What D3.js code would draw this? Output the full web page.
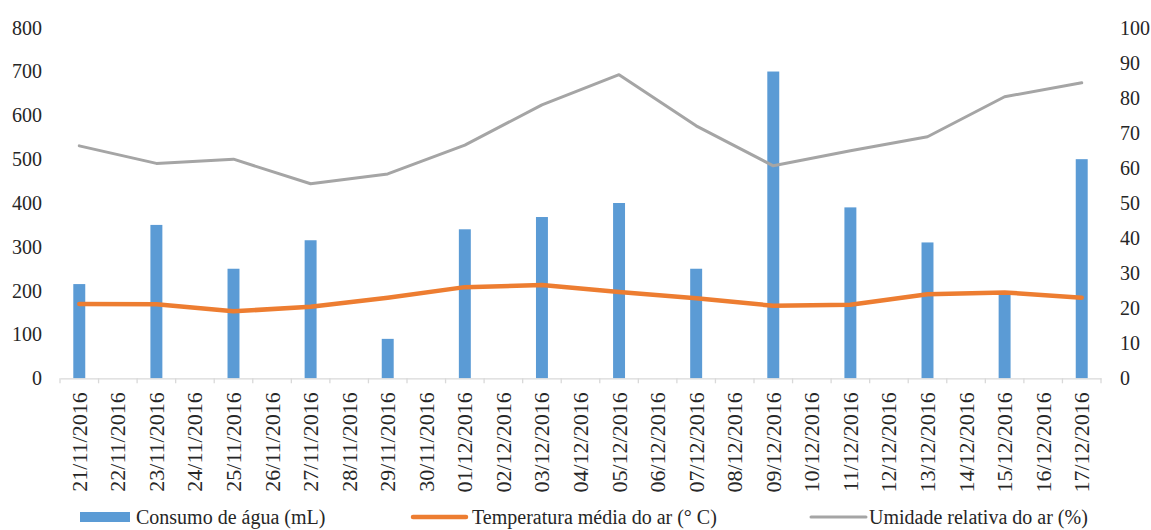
<!DOCTYPE html>
<html>
<head>
<meta charset="utf-8">
<script src="https://cdn.jsdelivr.net/npm/d3@7"></script>
</head>
<body style="margin:0;padding:0;background:#fff">
<svg id="chart" width="1151" height="530" style="display:block"></svg>
<script>
// Daily dates of the observation period
const categories = [
  "21/11/2016","22/11/2016","23/11/2016","24/11/2016","25/11/2016","26/11/2016",
  "27/11/2016","28/11/2016","29/11/2016","30/11/2016","01/12/2016","02/12/2016",
  "03/12/2016","04/12/2016","05/12/2016","06/12/2016","07/12/2016","08/12/2016",
  "09/12/2016","10/12/2016","11/12/2016","12/12/2016","13/12/2016","14/12/2016",
  "15/12/2016","16/12/2016","17/12/2016"
];

// Water consumption (mL), measured every other day
const consumo = [215, null, 350, null, 250, null, 315, null, 90, null, 340, null,
  368, null, 400, null, 250, null, 700, null, 390, null, 310, null, 193, null, 500];

// Mean air temperature (°C)
const temperatura = [21.2, null, 21.1, null, 19.1, null, 20.4, null, 23.0, null, 26.0, null,
  26.6, null, 24.6, null, 22.8, null, 20.7, null, 21.0, null, 24.0, null, 24.5, null, 23.0];

// Relative air humidity (%)
const umidade = [66.3, null, 61.3, null, 62.5, null, 55.5, null, 58.3, null, 66.5, null,
  78, null, 86.6, null, 72, null, 60.6, null, 64.9, null, 68.9, null, 80.3, null, 84.3];

const leftTicks = [0, 100, 200, 300, 400, 500, 600, 700, 800];
const rightTicks = [0, 10, 20, 30, 40, 50, 60, 70, 80, 90, 100];

const seriesNames = ["Consumo de água (mL)", "Temperatura média do ar (° C)", "Umidade relativa do ar (%)"];
const colors = { bar: "#5B9BD5", temp: "#ED7D31", hum: "#A5A5A5", axis: "#D9D9D9", text: "#262626" };
const serif = '"Liberation Serif", "Times New Roman", serif';

const svg = d3.select("#chart");
const fontSize = 20;
const dateFontSize = 22;

const plot = { left: 60, right: 1101, top: 27.7, bottom: 378.3 };

const x = d3.scaleBand().domain(categories).range([plot.left, plot.right]);
const yLeft = d3.scaleLinear().domain([0, 800]).range([plot.bottom, plot.top]);
const yRight = d3.scaleLinear().domain([0, 100]).range([plot.bottom, plot.top]);

const barW = x.bandwidth() * 0.31;

// Bars
svg.append("g").selectAll("rect")
  .data(categories.map((c, i) => ({ c, v: consumo[i] })).filter(d => d.v != null))
  .join("rect")
  .attr("x", d => x(d.c) + x.bandwidth() / 2 - barW / 2)
  .attr("y", d => yLeft(d.v))
  .attr("width", barW)
  .attr("height", d => yLeft(0) - yLeft(d.v))
  .attr("fill", colors.bar);

// X axis: line with tick marks at category boundaries
const xAxis = d3.axisBottom(x).tickSize(0).tickFormat("");
const gx = svg.append("g").attr("transform", `translate(0,${plot.bottom})`).call(xAxis);
gx.select(".domain").attr("stroke", colors.axis).attr("stroke-width", 1.3);
const boundaries = categories.map(c => x(c)).concat([plot.right]);
gx.selectAll(".bound").data(boundaries).join("line")
  .attr("class", "bound")
  .attr("x1", d => d).attr("x2", d => d)
  .attr("y1", 0).attr("y2", 5)
  .attr("stroke", colors.axis).attr("stroke-width", 1.3);

// Rotated date labels
gx.selectAll(".lbl").data(categories).join("text")
  .attr("class", "lbl")
  .attr("transform", d => `translate(${x(d) + x.bandwidth() / 2 + 7.5},${14}) rotate(-90)`)
  .attr("text-anchor", "end")
  .attr("font-size", dateFontSize)
  .attr("fill", colors.text)
  .text(d => d);

// Left axis
const gl = svg.append("g").attr("transform", `translate(${42},0)`)
  .call(d3.axisLeft(yLeft).tickValues(leftTicks).tickSize(0).tickPadding(0));
gl.select(".domain").remove();
gl.selectAll("text").attr("font-size", fontSize).attr("fill", colors.text);

// Right axis
const gr = svg.append("g").attr("transform", `translate(${1120},0)`)
  .call(d3.axisRight(yRight).tickValues(rightTicks).tickSize(0).tickPadding(0));
gr.select(".domain").remove();
gr.selectAll("text").attr("font-size", fontSize).attr("fill", colors.text);

// Lines (only days with measurements)
const pts = arr => categories.map((c, i) => ({ c, v: arr[i] })).filter(d => d.v != null);

const line = d3.line()
  .x(d => x(d.c) + x.bandwidth() / 2)
  .y(d => yRight(d.v));

svg.append("path").datum(pts(umidade))
  .attr("d", line)
  .attr("fill", "none")
  .attr("stroke", colors.hum)
  .attr("stroke-width", 3)
  .attr("stroke-linejoin", "round")
  .attr("stroke-linecap", "round");

svg.append("path").datum(pts(temperatura))
  .attr("d", line)
  .attr("fill", "none")
  .attr("stroke", colors.temp)
  .attr("stroke-width", 4.5)
  .attr("stroke-linejoin", "round")
  .attr("stroke-linecap", "round");

// Legend
const legendY = 517;
const lg = svg.append("g").attr("font-size", fontSize).attr("fill", colors.text);
lg.append("rect").attr("x", 80).attr("y", legendY - 5).attr("width", 50).attr("height", 10).attr("fill", colors.bar);
lg.append("text").attr("x", 136).attr("y", legendY + 7).text(seriesNames[0]);
lg.append("line").attr("x1", 413).attr("x2", 466).attr("y1", legendY).attr("y2", legendY)
  .attr("stroke", colors.temp).attr("stroke-width", 4.5).attr("stroke-linecap", "round");
lg.append("text").attr("x", 472).attr("y", legendY + 7).text(seriesNames[1]);
lg.append("line").attr("x1", 811).attr("x2", 866).attr("y1", legendY).attr("y2", legendY)
  .attr("stroke", colors.hum).attr("stroke-width", 3).attr("stroke-linecap", "round");
lg.append("text").attr("x", 869).attr("y", legendY + 7).text(seriesNames[2]);

// Serif typeface on every label
svg.selectAll("text").style("font-family", serif);
</script>
</body>
</html>
